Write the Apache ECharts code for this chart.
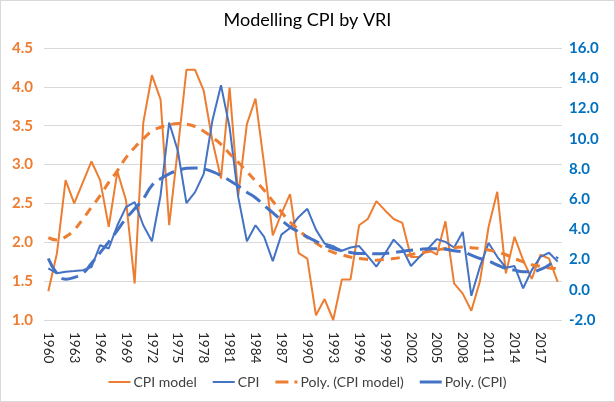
<!DOCTYPE html>
<html><head><meta charset="utf-8">
<script src="https://cdn.jsdelivr.net/npm/echarts@6/dist/echarts.min.js"></script>
<style>html,body{margin:0;padding:0;background:#fff}#c{width:615px;height:402px;box-sizing:border-box;border:1px solid #d9d9d9}</style>
</head><body><div id="c"></div>
<script>
const years = [];
for (let y = 1960; y <= 2019; y++) years.push(String(y));
const cpiModel = [1.37,1.86,2.80,2.50,2.77,3.04,2.80,2.20,2.91,2.54,1.47,3.54,
  4.15,3.84,2.22,3.20,4.22,4.22,3.95,3.31,2.82,3.99,2.60,3.52,
  3.85,3.00,2.09,2.37,2.62,1.86,1.79,1.06,1.27,1.00,1.52,1.52,
  2.22,2.30,2.53,2.41,2.30,2.25,1.81,1.81,1.91,1.84,2.27,1.47,
  1.34,1.12,1.50,2.20,2.65,1.60,2.07,1.77,1.53,1.84,1.79,1.49];
const cpi = [1.42,1.09,1.20,1.24,1.30,1.50,2.95,2.73,4.27,5.47,5.80,4.27,
  3.21,6.24,11.07,9.20,5.74,6.46,7.67,11.18,13.54,10.74,6.13,3.21,
  4.27,3.50,1.90,3.65,4.09,4.82,5.36,3.98,3.06,2.89,2.58,2.80,
  2.89,2.23,1.53,2.40,3.32,2.73,1.57,2.18,2.73,3.35,3.17,2.80,
  3.83,-0.40,1.53,3.10,2.18,1.46,1.57,0.10,1.30,2.18,2.45,1.86];
const polyCpiModel = [2.06,2.03,2.07,2.16,2.30,2.45,2.60,2.77,2.92,3.09,3.22,3.33,
  3.43,3.48,3.51,3.53,3.52,3.49,3.43,3.35,3.26,3.14,3.03,2.91,
  2.79,2.67,2.53,2.39,2.26,2.16,2.06,1.99,1.92,1.87,1.84,1.81,
  1.79,1.78,1.77,1.78,1.79,1.81,1.84,1.86,1.88,1.90,1.92,1.93,
  1.94,1.93,1.92,1.90,1.87,1.84,1.79,1.75,1.71,1.69,1.67,1.66];
const polyCpi = [2.07,1.09,0.70,0.82,1.09,1.75,2.45,3.17,3.94,4.71,5.36,6.02,
  6.90,7.34,7.67,7.89,8.04,8.06,8.00,7.82,7.56,7.23,6.86,6.46,
  6.09,5.58,5.10,4.60,4.16,3.83,3.50,3.21,2.95,2.73,2.58,2.47,
  2.40,2.40,2.38,2.40,2.47,2.54,2.62,2.67,2.71,2.71,2.69,2.58,
  2.51,2.29,2.07,1.90,1.64,1.42,1.30,1.20,1.20,1.35,1.64,2.18];

const ORANGE = '#ED7D31', BLUE = '#4472C4';
const FONT = 'Lato';
const ICON_THIN = 'path://M0,0H22V2H0Z';
const ICON_DASH = 'path://M0,0H13V3H0Z M19,0H22V3H19Z';
const ICON_THICK = 'path://M0,0H22V3H0Z';
const chart = echarts.init(document.getElementById('c'));
chart.setOption({
  animation: false,
  textStyle: {fontFamily: FONT},
  title: {text: 'Modelling CPI by VRI', left: 'center', top: 5,
    textStyle: {fontFamily: FONT, fontSize: 18, fontWeight: 'normal', color: '#000'}},
  grid: {left: 43, right: 52, top: 47, bottom: 81, containLabel: false},
  legend: {bottom: 7, left: 'center', itemWidth: 22, itemHeight: 3, itemGap: 16,
    textStyle: {fontFamily: FONT, fontSize: 14, color: '#404040', padding: [0, 0, 0, -2]},
    data: [
      {name: 'CPI model', icon: ICON_THIN, itemStyle: {color: ORANGE}},
      {name: 'CPI', icon: ICON_THIN, itemStyle: {color: BLUE}},
      {name: 'Poly. (CPI model)', icon: ICON_DASH, itemStyle: {color: ORANGE}},
      {name: 'Poly. (CPI)', icon: ICON_THICK, itemStyle: {color: BLUE}}
    ]},
  xAxis: {type: 'category', data: years, boundaryGap: true,
    axisLine: {show: false}, axisTick: {show: false},
    axisLabel: {interval: 2, rotate: -90, fontFamily: FONT, fontSize: 13.5, color: '#262626', margin: 12}},
  yAxis: [
    {type: 'value', min: 1, max: 4.5, interval: 0.5,
      axisLabel: {formatter: v => v.toFixed(1), color: ORANGE, fontWeight: 'bold', fontSize: 15, fontFamily: FONT, margin: 11},
      splitLine: {lineStyle: {color: '#d9d9d9'}}, axisLine: {show: false}, axisTick: {show: false}},
    {type: 'value', min: -2, max: 16, interval: 2, position: 'right',
      axisLabel: {formatter: v => v.toFixed(1), color: '#0070C0', fontWeight: 'bold', fontSize: 15, fontFamily: FONT, margin: 7},
      splitLine: {show: false}, axisLine: {show: false}, axisTick: {show: false}}
  ],
  series: [
    {name: 'CPI model', type: 'line', yAxisIndex: 0, data: cpiModel, symbol: 'none',
      lineStyle: {color: ORANGE, width: 2}, itemStyle: {color: ORANGE}, z: 3},
    {name: 'CPI', type: 'line', yAxisIndex: 1, data: cpi, symbol: 'none',
      lineStyle: {color: BLUE, width: 2}, itemStyle: {color: BLUE}, z: 3},
    {name: 'Poly. (CPI model)', type: 'line', yAxisIndex: 0, data: polyCpiModel, symbol: 'none', smooth: true,
      lineStyle: {color: ORANGE, width: 3, type: [9, 7]}, itemStyle: {color: ORANGE}, z: 4},
    {name: 'Poly. (CPI)', type: 'line', yAxisIndex: 1, data: polyCpi, symbol: 'none', smooth: true,
      lineStyle: {color: BLUE, width: 3, type: [17, 7]}, itemStyle: {color: BLUE}, z: 4}
  ]
});
</script></body></html>
